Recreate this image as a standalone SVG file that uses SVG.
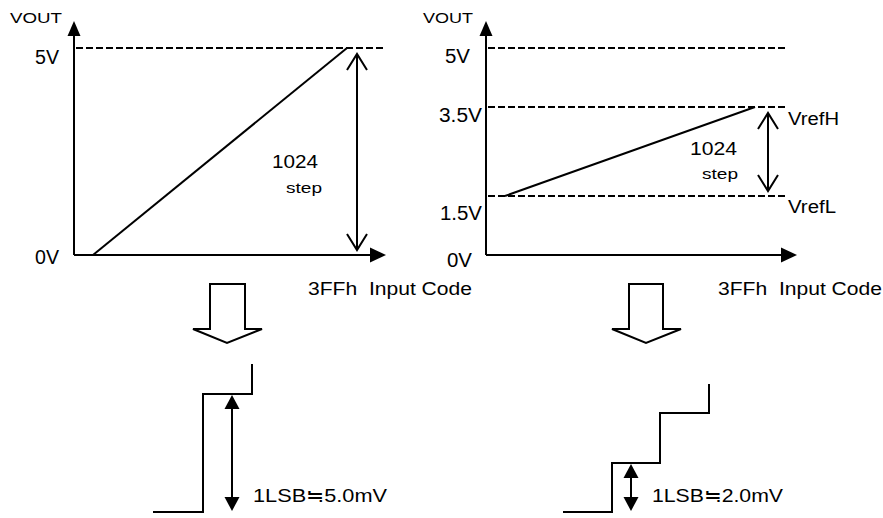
<svg xmlns="http://www.w3.org/2000/svg" width="883" height="518" viewBox="0 0 883 518">
<style>
.ln{stroke:#000;stroke-width:2;fill:none}
.ds{stroke:#000;stroke-width:1.8;fill:none;stroke-dasharray:7 3}
.ah{fill:#000;stroke:none}
.ba{fill:#fff;stroke:#000;stroke-width:2}
text{font-family:"Liberation Sans","Noto Sans CJK JP",Arial,sans-serif;fill:#000}
.t20{font-size:19.5px}
.t15{font-size:15.5px}
.t18{font-size:18px}
.pre{white-space:pre}
</style>
<rect width="883" height="518" fill="#fff"/>
<g id="left-graph">
  <line class="ln" x1="74" y1="255" x2="74" y2="34"/>
  <polygon class="ah" points="74,21 67.5,36 80.5,36"/>
  <line class="ln" x1="74" y1="255" x2="372" y2="255"/>
  <polygon class="ah" points="386,255 370,247.5 370,262.5"/>
  <line class="ds" x1="76" y1="48" x2="386" y2="48"/>
  <line class="ln" x1="93" y1="255" x2="347" y2="48"/>
  <line class="ln" x1="357" y1="54" x2="357" y2="250"/>
  <polyline class="ln" points="347,70 357,54 367,70"/>
  <polyline class="ln" points="347,234 357,250 367,234"/>
  <text class="t15" x="10" y="23" textLength="52" lengthAdjust="spacingAndGlyphs">VOUT</text>
  <text class="t20" x="35" y="64" textLength="24" lengthAdjust="spacingAndGlyphs">5V</text>
  <text class="t20" x="35" y="264" textLength="24" lengthAdjust="spacingAndGlyphs">0V</text>
  <text class="t18" x="272" y="168" textLength="46" lengthAdjust="spacingAndGlyphs">1024</text>
  <text class="t15" x="286" y="193" textLength="36" lengthAdjust="spacingAndGlyphs">step</text>
  <text class="t18 pre" x="308" y="295" textLength="164" lengthAdjust="spacingAndGlyphs" xml:space="preserve">3FFh  Input Code</text>
</g>
<g id="right-graph">
  <line class="ln" x1="486" y1="255" x2="486" y2="34"/>
  <polygon class="ah" points="486,21 479.5,36 492.5,36"/>
  <line class="ln" x1="486" y1="255" x2="783" y2="255"/>
  <polygon class="ah" points="797,255 781,247.5 781,262.5"/>
  <line class="ds" x1="488" y1="48" x2="788" y2="48"/>
  <line class="ds" x1="488" y1="107" x2="788" y2="107"/>
  <line class="ds" x1="488" y1="196" x2="788" y2="196"/>
  <line class="ln" x1="505" y1="196" x2="755" y2="107"/>
  <line class="ln" x1="768" y1="113" x2="768" y2="191"/>
  <polyline class="ln" points="758,129 768,113 778,129"/>
  <polyline class="ln" points="758,175 768,191 778,175"/>
  <text class="t15" x="423" y="23" textLength="50" lengthAdjust="spacingAndGlyphs">VOUT</text>
  <text class="t20" x="445" y="63" textLength="25" lengthAdjust="spacingAndGlyphs">5V</text>
  <text class="t20" x="439" y="122" textLength="43" lengthAdjust="spacingAndGlyphs">3.5V</text>
  <text class="t20" x="440" y="220" textLength="42" lengthAdjust="spacingAndGlyphs">1.5V</text>
  <text class="t20" x="447" y="267" textLength="25" lengthAdjust="spacingAndGlyphs">0V</text>
  <text class="t18" x="788" y="125" textLength="51" lengthAdjust="spacingAndGlyphs">VrefH</text>
  <text class="t18" x="788" y="213" textLength="48" lengthAdjust="spacingAndGlyphs">VrefL</text>
  <text class="t18" x="690" y="155" textLength="47" lengthAdjust="spacingAndGlyphs">1024</text>
  <text class="t15" x="702" y="179" textLength="36" lengthAdjust="spacingAndGlyphs">step</text>
  <text class="t18 pre" x="718" y="295" textLength="164" lengthAdjust="spacingAndGlyphs" xml:space="preserve">3FFh  Input Code</text>
</g>
<g id="block-arrows">
  <polygon class="ba" points="210,284 245,284 245,329 262,329 227,343 193,329 210,329"/>
  <polygon class="ba" points="629,284 663,284 663,329 681,329 646,343 612,329 629,329"/>
</g>
<g id="left-steps">
  <polyline class="ln" points="153,512 203,512 203,394 252,394 252,364"/>
  <line class="ln" x1="232" y1="405" x2="232" y2="500"/>
  <polygon class="ah" points="232,395 224.5,409 239.5,409"/>
  <polygon class="ah" points="232,511 224.5,497 239.5,497"/>
  <text class="t18" x="253" y="502" textLength="134" lengthAdjust="spacingAndGlyphs">1LSB≒5.0mV</text>
</g>
<g id="right-steps">
  <polyline class="ln" points="563,512 612,512 612,463 660,463 660,413 709,413 709,384"/>
  <line class="ln" x1="631" y1="474" x2="631" y2="500"/>
  <polygon class="ah" points="631,464 623.5,478 638.5,478"/>
  <polygon class="ah" points="631,511 623.5,497 638.5,497"/>
  <text class="t18" x="652" y="502" textLength="131" lengthAdjust="spacingAndGlyphs">1LSB≒2.0mV</text>
</g>
</svg>
